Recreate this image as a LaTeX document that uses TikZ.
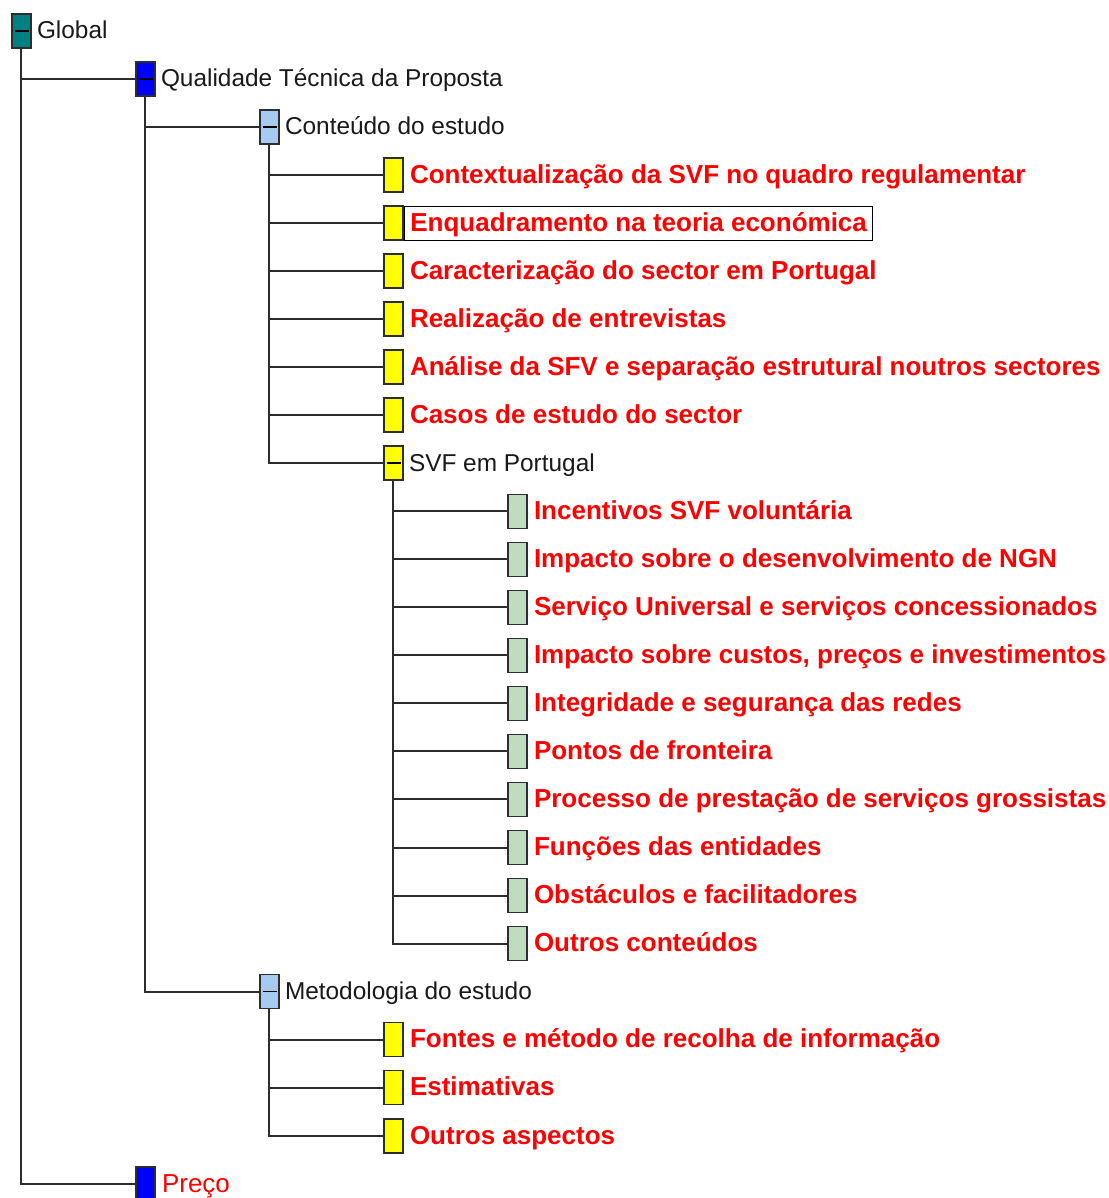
\documentclass[tikz,border=0pt]{standalone}
\usepackage{fontspec}
\setmainfont{Liberation Sans}
\definecolor{teal0}{RGB}{0,128,128}
\definecolor{blue0}{RGB}{0,0,255}
\definecolor{lblue}{RGB}{166,202,240}
\definecolor{yel}{RGB}{255,255,0}
\definecolor{grn}{RGB}{192,220,192}
\definecolor{leafred}{RGB}{255,0,0}
\definecolor{linec}{RGB}{45,45,45}
\definecolor{txtc}{RGB}{25,25,25}
\newcommand\blkfont{\fontsize{24.4}{26}\selectfont}
\newcommand\redfont{\fontsize{26}{28}\selectfont\bfseries}
\newcommand\regredfont{\fontsize{26}{28}\selectfont}
\tikzset{
  bx/.style={draw=linec, line width=1.6pt, minimum width=19pt, minimum height=34pt, inner sep=0pt},
  opened/.style={path picture={\draw[black, line width=1.6pt] ([xshift=2.5pt]path picture bounding box.west) -- ([xshift=-2.5pt]path picture bounding box.east);}},
  blk/.style={anchor=west, inner xsep=5pt, inner ysep=0pt, text height=24.75pt, text depth=9.25pt, font=\blkfont, text=txtc},
  leaf/.style={anchor=west, inner xsep=6pt, inner ysep=0pt, text height=25.3pt, text depth=8.7pt, font=\redfont, text=leafred},
  focus/.style={draw=black, line width=1.1pt},
  conn/.style={draw=linec, line width=2pt},
}
\begin{document}
\begin{tikzpicture}[x=1pt,y=-1pt]
\useasboundingbox[fill=white] (0,0) rectangle (1108,1198);
% boxes
\node[bx, opened, fill=teal0] (g) at (21.5,31) {};
\node[bx, opened, fill=blue0] (q) at (145.5,79.03) {};
\node[bx, opened, fill=lblue] (c) at (269.5,127.06) {};
\node[bx, fill=yel] (c1) at (393.5,175.09) {};
\node[bx, fill=yel] (c2) at (393.5,223.12) {};
\node[bx, fill=yel] (c3) at (393.5,271.15) {};
\node[bx, fill=yel] (c4) at (393.5,319.18) {};
\node[bx, fill=yel] (c5) at (393.5,367.21) {};
\node[bx, fill=yel] (c6) at (393.5,415.24) {};
\node[bx, opened, fill=yel] (s) at (393.5,463.27) {};
\node[bx, fill=grn] (s1) at (517.5,511.3) {};
\node[bx, fill=grn] (s2) at (517.5,559.33) {};
\node[bx, fill=grn] (s3) at (517.5,607.36) {};
\node[bx, fill=grn] (s4) at (517.5,655.39) {};
\node[bx, fill=grn] (s5) at (517.5,703.42) {};
\node[bx, fill=grn] (s6) at (517.5,751.45) {};
\node[bx, fill=grn] (s7) at (517.5,799.48) {};
\node[bx, fill=grn] (s8) at (517.5,847.51) {};
\node[bx, fill=grn] (s9) at (517.5,895.54) {};
\node[bx, fill=grn] (s10) at (517.5,943.57) {};
\node[bx, opened, fill=lblue] (m) at (269.5,991.6) {};
\node[bx, fill=yel] (m1) at (393.5,1039.63) {};
\node[bx, fill=yel] (m2) at (393.5,1087.66) {};
\node[bx, fill=yel] (m3) at (393.5,1135.69) {};
\node[bx, fill=blue0] (p) at (145.5,1183.72) {};
% connectors
\foreach \a/\b in {g/q, g/p, q/c, q/m, c/c1, c/c2, c/c3, c/c4, c/c5, c/c6, c/s,
  s/s1, s/s2, s/s3, s/s4, s/s5, s/s6, s/s7, s/s8, s/s9, s/s10, m/m1, m/m2, m/m3}
  \draw[conn] ([xshift=-1pt]\a.south) |- (\b.west);
% labels
\node[blk] (tg) at (g.east) {Global};
\node[blk] (tq) at (q.east) {Qualidade Técnica da Proposta};
\node[blk] (tc) at (c.east) {Conteúdo do estudo};
\node[leaf] (tc1) at (c1.east) {Contextualização da SVF no quadro regulamentar};
\node[leaf, focus] (tc2) at (c2.east) {Enquadramento na teoria económica};
\node[leaf] (tc3) at (c3.east) {Caracterização do sector em Portugal};
\node[leaf] (tc4) at (c4.east) {Realização de entrevistas};
\node[leaf] (tc5) at (c5.east) {Análise da SFV e separação estrutural noutros sectores};
\node[leaf] (tc6) at (c6.east) {Casos de estudo do sector};
\node[blk] (ts) at (s.east) {SVF em Portugal};
\node[leaf] (ts1) at (s1.east) {Incentivos SVF voluntária};
\node[leaf] (ts2) at (s2.east) {Impacto sobre o desenvolvimento de NGN};
\node[leaf] (ts3) at (s3.east) {Serviço Universal e serviços concessionados};
\node[leaf] (ts4) at (s4.east) {Impacto sobre custos, preços e investimentos};
\node[leaf] (ts5) at (s5.east) {Integridade e segurança das redes};
\node[leaf] (ts6) at (s6.east) {Pontos de fronteira};
\node[leaf] (ts7) at (s7.east) {Processo de prestação de serviços grossistas};
\node[leaf] (ts8) at (s8.east) {Funções das entidades};
\node[leaf] (ts9) at (s9.east) {Obstáculos e facilitadores};
\node[leaf] (ts10) at (s10.east) {Outros conteúdos};
\node[blk] (tm) at (m.east) {Metodologia do estudo};
\node[leaf] (tm1) at (m1.east) {Fontes e método de recolha de informação};
\node[leaf] (tm2) at (m2.east) {Estimativas};
\node[leaf] (tm3) at (m3.east) {Outros aspectos};
\node[leaf, font=\regredfont] (tp) at (p.east) {Preço};
\end{tikzpicture}
\end{document}
